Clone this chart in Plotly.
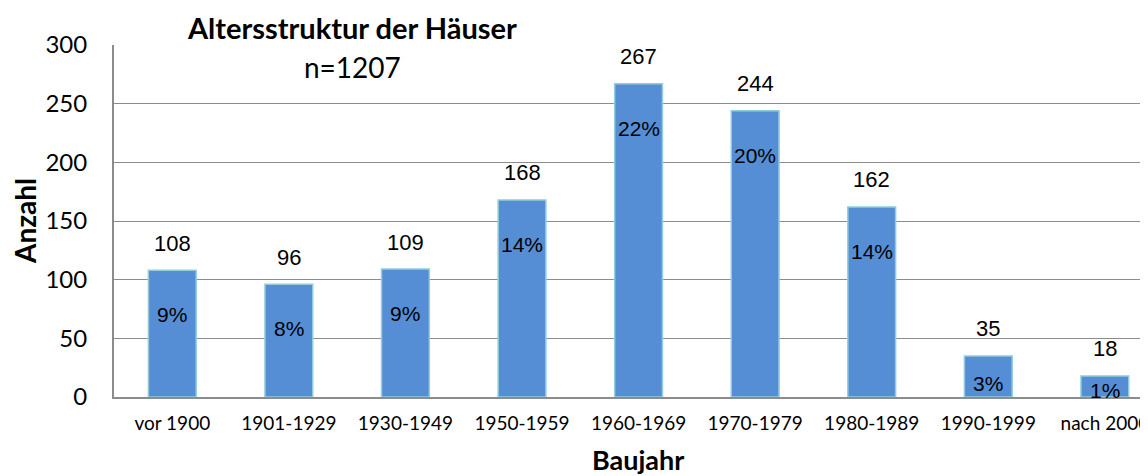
import plotly.graph_objects as go

categories = ["vor 1900", "1901-1929", "1930-1949", "1950-1959", "1960-1969",
              "1970-1979", "1980-1989", "1990-1999", "nach 2000"]
counts = [108, 96, 109, 168, 267, 244, 162, 35, 18]
pct_labels = ["9%", "8%", "9%", "14%", "22%", "20%", "14%", "3%", "1%"]
y_ticks = [0, 50, 100, 150, 200, 250, 300]

CAL = "Lato, 'Open Sans', sans-serif"
HEL = "'Liberation Sans', Arial, sans-serif"

# page body has an 8px default margin; figure is sized/offset to compensate
OFF = 8
W, H = 1148 - OFF, 476 - OFF
l, r, t, b = 114 - OFF, 0, 45 - OFF, 79
pw, ph = W - l - r, H - t - b

def px(xp, yp):
    """window pixel -> paper coords"""
    return (xp - OFF - l) / pw, (H - (yp - OFF) - b) / ph

fig = go.Figure()
fig.add_trace(go.Bar(
    x=categories, y=counts, width=0.41,
    marker=dict(color="#558ED5", line=dict(color="#93CDDD", width=1.5)),
    hoverinfo="skip",
))

annotations = []
for c, v, p in zip(categories, counts, pct_labels):
    annotations.append(dict(x=c, y=v, xref="x", yref="y", text=str(v), showarrow=False,
                            yshift=27, font=dict(family=HEL, size=22, color="black")))
    py = v - 38 if v > 60 else v * 0.33
    annotations.append(dict(x=c, y=py, xref="x", yref="y", text=p, showarrow=False,
                            font=dict(family=HEL, size=21, color="black")))

page_texts = [
    (352, 28, "<b>Altersstruktur der Häuser</b>", 29, 0),
    (352, 67, "n=1207", 28, 0),
    (25, 221, "<b>Anzahl</b>", 28, -90),
    (638, 459, "<b>Baujahr</b>", 27, 0),
]
for xp, yp, txt, sz, ang in page_texts:
    ax, ay = px(xp, yp)
    annotations.append(dict(x=ax, y=ay, xref="paper", yref="paper", text=txt,
                            textangle=ang, showarrow=False, xanchor="center", yanchor="middle",
                            font=dict(family=CAL, size=sz, color="black")))

fig.update_layout(
    width=W, height=H,
    margin=dict(l=l, r=r, t=t, b=b, autoexpand=False),
    plot_bgcolor="white", paper_bgcolor="white",
    showlegend=False,
    xaxis=dict(range=[-0.5, 8.37], showgrid=False, showline=True, linecolor="#8c8c8c",
               linewidth=2, ticks="", tickfont=dict(family=CAL, size=19, color="black"),
               ticklabelstandoff=8, fixedrange=True),
    yaxis=dict(range=[0, 300], tickvals=y_ticks, showgrid=True, gridcolor="#8c8c8c",
               gridwidth=1.3, showline=True, linecolor="#8c8c8c", linewidth=2, zeroline=False,
               ticks="", tickfont=dict(family=CAL, size=24, color="black"),
               ticklabelstandoff=20),
    annotations=annotations,
)

fig.write_html("out.html")
